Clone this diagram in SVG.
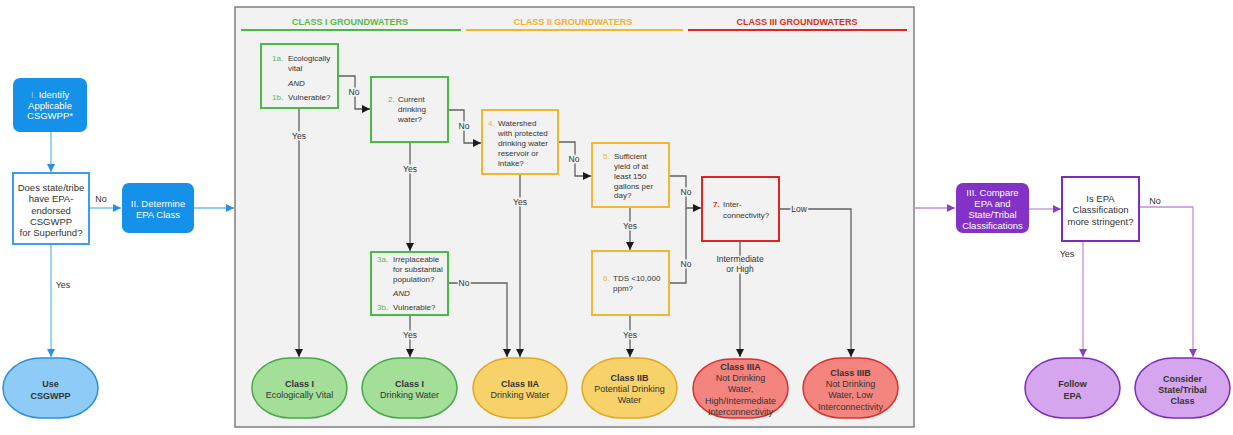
<svg xmlns="http://www.w3.org/2000/svg" width="1233" height="435" viewBox="0 0 1233 435">
<defs>
<style>
text{font-family:"Liberation Sans",Arial,sans-serif;fill:#333}
.t9{font-size:9.5px}
.t8{font-size:8px}
.to{font-size:9px}
.c{text-anchor:middle}
.b{font-weight:bold}
.w{fill:#fff}
.hd{font-size:9px;font-weight:bold;text-anchor:middle}
.lbl{font-size:8.5px;text-anchor:middle;stroke:#f2f2f2;stroke-width:3;paint-order:stroke}
.lblw{font-size:9px;text-anchor:middle}
.g{fill:#5cb84e}
.o{fill:#f0b030}
.r{fill:#d83020}
.cd{fill:none;stroke:#606060;stroke-width:1.3}
.cb{fill:none;stroke:#6ab8f0;stroke-width:1.3}
.cp{fill:none;stroke:#c08ee0;stroke-width:1.3}
.bg{fill:#f2f2f2;stroke:#4cb848;stroke-width:2}
.bo{fill:#f2f2f2;stroke:#f0b830;stroke-width:2}
.br{fill:#f2f2f2;stroke:#e02424;stroke-width:2}
.og{fill:#a3df98;stroke:#48a848;stroke-width:1.5}
.oo{fill:#f7d26b;stroke:#e0a820;stroke-width:1.5}
.or{fill:#f4857e;stroke:#d83030;stroke-width:1.5}
.op{fill:#d5a6ee;stroke:#7b2fb8;stroke-width:1.5}
.ob{fill:#8ecbf7;stroke:#2a8fe0;stroke-width:1.5}
</style>
<marker id="ad" viewBox="0 0 10 10" refX="10" refY="5" markerWidth="8" markerHeight="8" orient="auto" markerUnits="userSpaceOnUse"><path d="M0,0 L10,5 L0,10 z" fill="#1a1a1a"/></marker>
<marker id="ab" viewBox="0 0 10 10" refX="10" refY="5" markerWidth="8" markerHeight="8" orient="auto" markerUnits="userSpaceOnUse"><path d="M0,0 L10,5 L0,10 z" fill="#2a8fe0"/></marker>
<marker id="ap" viewBox="0 0 10 10" refX="10" refY="5" markerWidth="8" markerHeight="8" orient="auto" markerUnits="userSpaceOnUse"><path d="M0,0 L10,5 L0,10 z" fill="#8a3ccc"/></marker>
</defs>
<rect width="1233" height="435" fill="#fff"/>

<g id="panel">
<rect x="235" y="7" width="679" height="420" fill="#f2f2f2" stroke="#7f7f7f" stroke-width="1.5"/>
<text class="hd g" x="350" y="24.5">CLASS I GROUNDWATERS</text>
<line x1="241" y1="30" x2="461" y2="30" stroke="#4cb848" stroke-width="2"/>
<text class="hd o" x="573" y="24.5">CLASS II GROUNDWATERS</text>
<line x1="466" y1="30" x2="683" y2="30" stroke="#f0b830" stroke-width="2"/>
<text class="hd r" x="797" y="24.5">CLASS III GROUNDWATERS</text>
<line x1="688" y1="30" x2="907" y2="30" stroke="#e02424" stroke-width="2"/>
</g>

<g id="connectors">
<path class="cb" d="M51,132 V172" marker-end="url(#ab)"/>
<path class="cb" d="M89,208 H121" marker-end="url(#ab)"/>
<path class="cb" d="M51,244 V357" marker-end="url(#ab)"/>
<path class="cb" d="M194,208 H234" marker-end="url(#ab)"/>
<text class="lblw" x="101" y="201.5">No</text>
<text class="lblw" x="63" y="288">Yes</text>

<path class="cd" d="M338,76 H355 V109 H370" marker-end="url(#ad)"/>
<path class="cd" d="M448,110 H464 V143 H481" marker-end="url(#ad)"/>
<path class="cd" d="M299,108 V357" marker-end="url(#ad)"/>
<path class="cd" d="M410,142 V251" marker-end="url(#ad)"/>
<path class="cd" d="M448,283 H507 V357" marker-end="url(#ad)"/>
<path class="cd" d="M410,315 V357" marker-end="url(#ad)"/>
<path class="cd" d="M520,174 V357" marker-end="url(#ad)"/>
<path class="cd" d="M558,142 H575 V176 H591" marker-end="url(#ad)"/>
<path class="cd" d="M630,207 V250" marker-end="url(#ad)"/>
<path class="cd" d="M630,315 V357" marker-end="url(#ad)"/>
<path class="cd" d="M669,176 H686 V208 H701" marker-end="url(#ad)"/>
<path class="cd" d="M669,283 H686 V208"/>
<path class="cd" d="M779,209 H851 V357" marker-end="url(#ad)"/>
<path class="cd" d="M740,241 V357" marker-end="url(#ad)"/>
<text class="lbl" x="354" y="95">No</text>
<text class="lbl" x="464" y="129">No</text>
<text class="lbl" x="299" y="138.5">Yes</text>
<text class="lbl" x="410" y="172">Yes</text>
<text class="lbl" x="464" y="286">No</text>
<text class="lbl" x="410" y="338">Yes</text>
<text class="lbl" x="520" y="205">Yes</text>
<text class="lbl" x="574" y="162">No</text>
<text class="lbl" x="630" y="229">Yes</text>
<text class="lbl" x="630" y="338">Yes</text>
<text class="lbl" x="686" y="195">No</text>
<text class="lbl" x="686" y="267">No</text>
<text class="lbl" x="799" y="212">Low</text>
<text class="lbl" x="740" y="262">Intermediate</text>
<text class="lbl" x="740" y="272">or High</text>

<path class="cp" d="M914,208 H955" marker-end="url(#ap)"/>
<path class="cp" d="M1029,209 H1061" marker-end="url(#ap)"/>
<path class="cp" d="M1139,207 H1193 V357" marker-end="url(#ap)"/>
<path class="cp" d="M1083,241 V357" marker-end="url(#ap)"/>
<text class="lblw" x="1155" y="204">No</text>
<text class="lblw" x="1067" y="257">Yes</text>
</g>

<g id="n-identify">
<rect x="13" y="78" width="74" height="54" rx="7" fill="#1591ea"/>
<text class="t9 c w" x="50" y="97.5"><tspan fill="#92d050">I.</tspan> Identify</text>
<text class="t9 c w" x="50" y="108.5">Applicable</text>
<text class="t9 c w" x="50" y="119">CSGWPP*</text>
</g>

<g id="n-does">
<rect x="13" y="173" width="76" height="71" fill="#fff" stroke="#3a9ee8" stroke-width="2"/>
<text class="t9 c" x="51" y="191">Does state/tribe</text>
<text class="t9 c" x="51" y="202">have EPA-</text>
<text class="t9 c" x="51" y="213.5">endorsed</text>
<text class="t9 c" x="51" y="224.5">CSGWPP</text>
<text class="t9 c" x="51" y="235.5">for Superfund?</text>
</g>

<g id="n-determine">
<rect x="122" y="183" width="72" height="50" rx="7" fill="#1591ea"/>
<text class="t9 c w" x="158" y="206.5">II. Determine</text>
<text class="t9 c w" x="158" y="217.5">EPA Class</text>
</g>

<g id="n-use">
<rect class="ob" x="3" y="358" width="95" height="60" rx="38" ry="30"/>
<text class="to c b" x="50.5" y="387">Use</text>
<text class="to c b" x="50.5" y="399">CSGWPP</text>
</g>

<g id="n-1">
<rect class="bg" x="261" y="44" width="77" height="64"/>
<text class="t8 g" x="272" y="61">1a.</text>
<text class="t8" x="288" y="61">Ecologically</text>
<text class="t8" x="288" y="70.5">vital</text>
<text class="t8" x="288" y="85.5" font-style="italic">AND</text>
<text class="t8 g" x="272" y="99.5">1b.</text>
<text class="t8" x="288" y="99.5">Vulnerable?</text>
</g>

<g id="n-2">
<rect class="bg" x="371" y="77" width="77" height="65"/>
<text class="t8 g" x="388" y="102">2.</text>
<text class="t8" x="398" y="102">Current</text>
<text class="t8" x="398" y="112">drinking</text>
<text class="t8" x="398" y="121.5">water?</text>
</g>

<g id="n-3">
<rect class="bg" x="371" y="252" width="77" height="63"/>
<text class="t8 g" x="377" y="262">3a.</text>
<text class="t8" x="393" y="262">Irreplaceable</text>
<text class="t8" x="393" y="272">for substantial</text>
<text class="t8" x="393" y="282">population?</text>
<text class="t8" x="393" y="296" font-style="italic">AND</text>
<text class="t8 g" x="377" y="310">3b.</text>
<text class="t8" x="393" y="310">Vulnerable?</text>
</g>

<g id="n-4">
<rect class="bo" x="482" y="110" width="76" height="64"/>
<text class="t8 o" x="488" y="126">4.</text>
<text class="t8" x="498" y="126">Watershed</text>
<text class="t8" x="498" y="136">with protected</text>
<text class="t8" x="498" y="146">drinking water</text>
<text class="t8" x="498" y="156">reservoir or</text>
<text class="t8" x="498" y="165.5">intake?</text>
</g>

<g id="n-5">
<rect class="bo" x="592" y="143" width="77" height="64"/>
<text class="t8 o" x="603" y="159">5.</text>
<text class="t8" x="614" y="159">Sufficient</text>
<text class="t8" x="614" y="169">yield of at</text>
<text class="t8" x="614" y="178.5">least 150</text>
<text class="t8" x="614" y="188.5">gallons per</text>
<text class="t8" x="614" y="198">day?</text>
</g>

<g id="n-6">
<rect class="bo" x="592" y="251" width="77" height="64"/>
<text class="t8 o" x="603" y="281">6.</text>
<text class="t8" x="613" y="281">TDS &lt;10,000</text>
<text class="t8" x="613" y="291">ppm?</text>
</g>

<g id="n-7">
<rect class="br" x="702" y="177" width="77" height="64"/>
<text class="t8 r b" x="713" y="206.5">7.</text>
<text class="t8" x="723" y="206.5">Inter-</text>
<text class="t8" x="723" y="217.5">connectivity?</text>
</g>

<g id="n-c1ev">
<rect class="og" x="252" y="358" width="95" height="60" rx="38" ry="30"/>
<text class="to c b" x="299.5" y="386.5">Class I</text>
<text class="to c" x="299.5" y="397.5">Ecologically Vital</text>
</g>

<g id="n-c1dw">
<rect class="og" x="362" y="358" width="95" height="60" rx="38" ry="30"/>
<text class="to c b" x="409.5" y="386.5">Class I</text>
<text class="to c" x="409.5" y="397.5">Drinking Water</text>
</g>

<g id="n-c2a">
<rect class="oo" x="473" y="358" width="94" height="60" rx="38" ry="30"/>
<text class="to c b" x="520" y="386.5">Class IIA</text>
<text class="to c" x="520" y="397.5">Drinking Water</text>
</g>

<g id="n-c2b">
<rect class="oo" x="582" y="358" width="95" height="60" rx="38" ry="30"/>
<text class="to c b" x="629.5" y="380.5">Class IIB</text>
<text class="to c" x="629.5" y="391.5">Potential Drinking</text>
<text class="to c" x="629.5" y="403">Water</text>
</g>

<g id="n-c3a">
<rect class="or" x="693" y="359" width="95" height="59" rx="38" ry="29.5"/>
<text class="to c b" x="740.5" y="369.5">Class IIIA</text>
<text class="to c" x="740.5" y="380.5">Not Drinking</text>
<text class="to c" x="740.5" y="392">Water,</text>
<text class="to c" x="740.5" y="403.5">High/Intermediate</text>
<text class="to c" x="740.5" y="414.5">Interconnectivity</text>
</g>

<g id="n-c3b">
<rect class="or" x="803" y="358" width="95" height="60" rx="38" ry="30"/>
<text class="to c b" x="850.5" y="375.5">Class IIIB</text>
<text class="to c" x="850.5" y="386.5">Not Drinking</text>
<text class="to c" x="850.5" y="398">Water, Low</text>
<text class="to c" x="850.5" y="409.5">Interconnectivity</text>
</g>

<g id="n-compare">
<rect x="956" y="183" width="73" height="50" rx="7" fill="#8232c6"/>
<text class="t9 c w" x="992.5" y="195.5">III. Compare</text>
<text class="t9 c w" x="992.5" y="206.5">EPA and</text>
<text class="t9 c w" x="992.5" y="217.5">State/Tribal</text>
<text class="t9 c w" x="992.5" y="229">Classifications</text>
</g>

<g id="n-stringent">
<rect x="1062" y="177" width="77" height="64" fill="#fff" stroke="#7b2fb8" stroke-width="2"/>
<text class="t9 c" x="1100.5" y="201.5">Is EPA</text>
<text class="t9 c" x="1100.5" y="212.5">Classification</text>
<text class="t9 c" x="1100.5" y="224.5">more stringent?</text>
</g>

<g id="n-follow">
<rect class="op" x="1025" y="358" width="95" height="60" rx="38" ry="30"/>
<text class="to c b" x="1072.5" y="386.5">Follow</text>
<text class="to c b" x="1072.5" y="398.5">EPA</text>
</g>

<g id="n-consider">
<rect class="op" x="1135" y="358" width="95" height="60" rx="38" ry="30"/>
<text class="to c b" x="1182.5" y="381.5">Consider</text>
<text class="to c b" x="1182.5" y="392.5">State/Tribal</text>
<text class="to c b" x="1182.5" y="403.5">Class</text>
</g>
</svg>
